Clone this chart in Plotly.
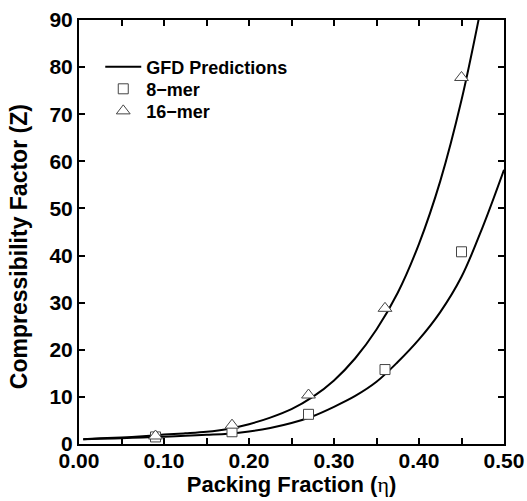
import plotly.graph_objects as go

# GFD prediction curves
eta_gfd16 = [0.005, 0.025, 0.05, 0.075, 0.10, 0.125, 0.15, 0.175, 0.20, 0.225, 0.25, 0.275,
             0.30, 0.325, 0.35, 0.375, 0.40, 0.425, 0.45, 0.475]
z_gfd16 = [1.03, 1.2, 1.38, 1.65, 2.0, 2.27, 2.6, 3.2, 4.2, 5.6, 7.4, 10.0,
           13.5, 18.2, 24.3, 32.1, 42.5, 55.8, 73.0, 94.5]
eta_gfd8 = [0.005, 0.025, 0.05, 0.075, 0.10, 0.125, 0.15, 0.175, 0.20, 0.225, 0.25, 0.275,
            0.30, 0.325, 0.35, 0.375, 0.40, 0.425, 0.45, 0.475, 0.50]
z_gfd8 = [1.02, 1.1, 1.23, 1.38, 1.54, 1.73, 1.95, 2.18, 2.64, 3.39, 4.44, 5.9,
          7.9, 10.2, 13.2, 17.4, 22.2, 28.0, 35.5, 46.1, 58.2]

# simulation points
eta_sim = [0.09, 0.18, 0.27, 0.36, 0.45]
z_8mer = [1.5, 2.6, 6.3, 15.8, 40.8]
z_16mer = [1.7, 4.0, 10.4, 28.8, 77.8]

x_ticks = [0.0, 0.1, 0.2, 0.3, 0.4, 0.5]
x_minor = [0.05, 0.15, 0.25, 0.35, 0.45]
y_ticks = [0, 10, 20, 30, 40, 50, 60, 70, 80, 90]

FONT = "Liberation Sans, Arial, Helvetica, sans-serif"

fig = go.Figure()
fig.add_trace(go.Scatter(x=eta_gfd16, y=z_gfd16, mode="lines", name="GFD Predictions", legend="legend",
                         line=dict(color="black", width=2, shape="spline", smoothing=1.0)))
fig.add_trace(go.Scatter(x=eta_gfd8, y=z_gfd8, mode="lines", name="GFD Predictions", showlegend=False,
                         line=dict(color="black", width=2, shape="spline", smoothing=1.0)))
fig.add_trace(go.Scatter(x=eta_sim, y=z_8mer, mode="markers", name="8\u2212mer", legend="legend2",
                         marker=dict(symbol="square", size=10, color="white",
                                     line=dict(color="#444444", width=1))))
fig.add_trace(go.Scatter(x=eta_sim, y=z_16mer, mode="markers", name="16\u2212mer", legend="legend3",
                         marker=dict(symbol="triangle-up", size=12, color="white",
                                     line=dict(color="#444444", width=1))))

axis_common = dict(
    automargin=False,
    showgrid=False, zeroline=False, showline=True, linecolor="black", linewidth=2,
    mirror="ticks", ticks="inside", ticklen=6, tickwidth=2, tickcolor="black",
    tickfont=dict(family=FONT, size=21, color="black", weight="bold"),
)

fig.update_xaxes(range=[0, 0.5], tickvals=x_ticks, ticktext=[f"{v:.2f}" for v in x_ticks],
                 minor=dict(tickvals=x_minor, ticks="inside", ticklen=6,
                            tickwidth=2, tickcolor="black"),
                 ticklabelstandoff=-3,
                 title=dict(text="Packing Fraction (<span style='font-family:Liberation Serif;font-weight:normal'>η</span>)",
                            font=dict(family=FONT, size=22, color="black", weight="bold"), standoff=2),
                 **axis_common)
fig.update_yaxes(range=[0, 90], tickvals=y_ticks, ticktext=[str(v) for v in y_ticks],
                 **axis_common)

fig.add_annotation(text="Compressibility Factor (Z)", textangle=-90,
                   xref="paper", yref="paper", x=-0.1405, y=0.465,
                   xanchor="center", yanchor="middle", showarrow=False,
                   font=dict(family=FONT, size=23, color="black", weight="bold"))

legend_common = dict(x=0.05, xanchor="left", yanchor="middle", bgcolor="rgba(0,0,0,0)",
                     font=dict(family=FONT, size=18, color="black", weight="bold"),
                     tracegroupgap=0, itemwidth=36)

fig.update_layout(
    width=527, height=501,
    margin=dict(l=79, r=23, t=20, b=57),
    paper_bgcolor="white", plot_bgcolor="white",
    showlegend=True,
    legend=dict(y=0.889, **legend_common),
    legend2=dict(y=0.837, **legend_common),
    legend3=dict(y=0.785, **legend_common),
)

fig.write_html("out.html", config={"displayModeBar": False},
               post_script="document.body.style.margin='0';document.body.style.overflow='hidden';")
